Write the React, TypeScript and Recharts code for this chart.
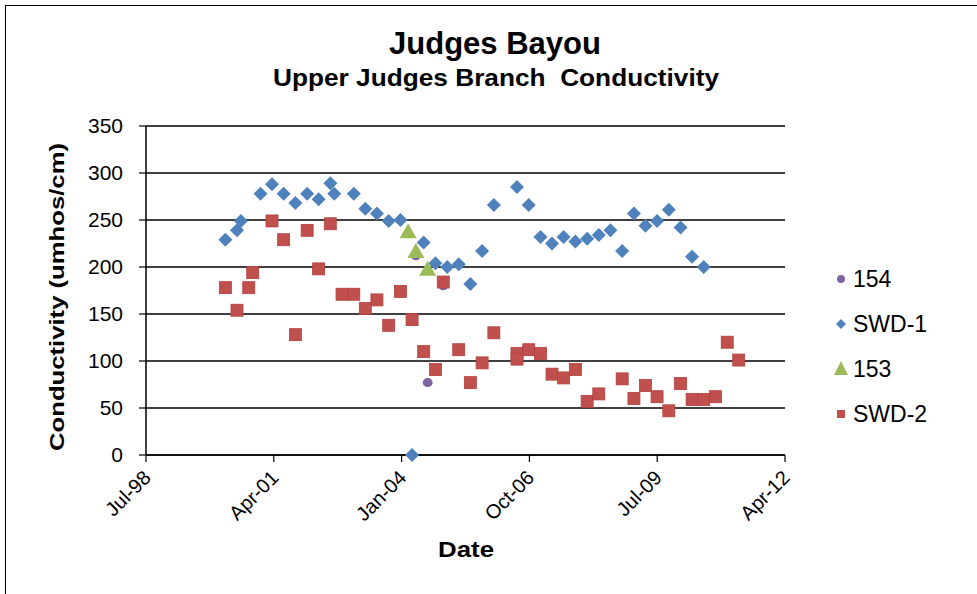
import { ScatterChart, Scatter, XAxis, YAxis, CartesianGrid } from 'recharts';

// x axis ticks sit 1000 days apart (Excel date serials 36000..41000)
const tickDates = ['1998-07-24', '2001-04-19', '2004-01-14', '2006-10-10', '2009-07-06', '2012-04-01'];
const tickLabels = ['Jul-98', 'Apr-01', 'Jan-04', 'Oct-06', 'Jul-09', 'Apr-12'];
const yTicks = [0, 50, 100, 150, 200, 250, 300, 350];

const site154Dates = ['2004-05', '2004-08', '2004-12'];
const site154Values = [212, 77, 180];

const swd1Dates = [
  '2000-04', '2000-07', '2000-08', '2001-01', '2001-04', '2001-07', '2001-10',
  '2002-01', '2002-04', '2002-07', '2002-08', '2003-01', '2003-04', '2003-07', '2003-10',
  '2004-01', '2004-04', '2004-07', '2004-10', '2005-01', '2005-04', '2005-07', '2005-10',
  '2006-01', '2006-07', '2006-10', '2007-01', '2007-04', '2007-07', '2007-10',
  '2008-01', '2008-04', '2008-07', '2008-10', '2009-01', '2009-04', '2009-07', '2009-10',
  '2010-01', '2010-04', '2010-07',
];
const swd1Values = [
  229, 239, 249, 278, 288, 278, 268,
  278, 272, 289, 278, 278, 262, 257, 249,
  250, 0, 226, 204, 200, 203, 182, 217,
  266, 285, 266, 232, 225, 232, 227,
  230, 234, 239, 217, 257, 244, 249, 261,
  242, 211, 200,
];

const site153Dates = ['2004-03', '2004-05', '2004-08'];
const site153Values = [237, 216, 197];

const swd2Dates = [
  '2000-04', '2000-07', '2000-10', '2000-11', '2001-04', '2001-07', '2001-10',
  '2002-01', '2002-04', '2002-07', '2002-10', '2003-01', '2003-04', '2003-07', '2003-10',
  '2004-01', '2004-04', '2004-07', '2004-10', '2004-12', '2005-04', '2005-07', '2005-10',
  '2006-01', '2006-07', '2006-07', '2006-10', '2007-01', '2007-04', '2007-07', '2007-10',
  '2008-01', '2008-04', '2008-10', '2009-01', '2009-04', '2009-07', '2009-10',
  '2010-01', '2010-04', '2010-07', '2010-10', '2011-01', '2011-04',
];
const swd2Values = [
  178, 154, 178, 194, 249, 229, 128,
  239, 198, 246, 171, 171, 156, 165, 138,
  174, 144, 110, 91, 184, 112, 77, 98,
  130, 108, 102, 112, 108, 86, 82, 91,
  57, 65, 81, 60, 74, 62, 47,
  76, 59, 59, 62, 120, 101,
];

const FONT = '"Liberation Sans", Arial, sans-serif';

const toTime = (s: string) => {
  const [y, m, d] = s.split('-').map(Number);
  return Date.UTC(y, m - 1, d || 5);
};

const build = (dates: string[], values: number[]) =>
  dates.map((d, i) => ({ t: toTime(d), v: values[i] }));

const tickTimes = tickDates.map(toTime);

const Circle = ({ cx, cy }: any) => <ellipse cx={cx} cy={cy} rx={5} ry={4.5} fill="#8064A2" />;
const Diamond = ({ cx, cy }: any) => (
  <path d={`M${cx},${cy - 7}L${cx + 7},${cy}L${cx},${cy + 7}L${cx - 7},${cy}Z`} fill="#4F81BD" />
);
const Triangle = ({ cx, cy }: any) => (
  <path d={`M${cx},${cy - 9}L${cx + 8.5},${cy + 6}L${cx - 8.5},${cy + 6}Z`} fill="#9BBB59" />
);
const Square = ({ cx, cy }: any) => (
  <rect x={cx - 6} y={cy - 6} width={12} height={12} fill="#C0504D" stroke="#B4403C" strokeWidth={0.8} />
);

const XTick = ({ x, y, payload }: any) => {
  const i = tickTimes.indexOf(payload.value);
  return (
    <text
      transform={`translate(${x + 6},${y + 17}) rotate(-45)`}
      textAnchor="end"
      fontSize={20}
      fontFamily={FONT}
      fill="#000"
    >
      {tickLabels[i]}
    </text>
  );
};

const legendItems = [
  { name: '154', Shape: ({ cx, cy }: any) => <circle cx={cx} cy={cy} r={4} fill="#8064A2" /> },
  { name: 'SWD-1', Shape: ({ cx, cy }: any) => <path d={`M${cx},${cy - 5}L${cx + 5},${cy}L${cx},${cy + 5}L${cx - 5},${cy}Z`} fill="#4F81BD" /> },
  { name: '153', Shape: ({ cx, cy }: any) => <path d={`M${cx},${cy - 8}L${cx + 7},${cy + 6}L${cx - 7},${cy + 6}Z`} fill="#9BBB59" /> },
  { name: 'SWD-2', Shape: ({ cx, cy }: any) => <rect x={cx - 4} y={cy - 4} width={8} height={8} fill="#C0504D" /> },
];

export default function App() {
  return (
    <div style={{ position: 'absolute', left: 0, top: 0, width: 977, height: 594, overflow: 'hidden', background: '#fff' }}>
      <ScatterChart width={977} height={594} margin={{ top: 126, right: 192, left: 86, bottom: 79 }}>
        <CartesianGrid vertical={false} stroke="#000" strokeWidth={1.5} />
        <XAxis
          type="number"
          dataKey="t"
          domain={[tickTimes[0], tickTimes[tickTimes.length - 1]]}
          ticks={tickTimes}
          height={60}
          tick={<XTick />}
          tickSize={7}
          tickMargin={0}
          axisLine={{ stroke: '#000', strokeWidth: 1.5 }}
          tickLine={{ stroke: '#000', strokeWidth: 1.2 }}
        />
        <YAxis
          type="number"
          dataKey="v"
          domain={[0, 350]}
          ticks={yTicks}
          width={60}
          tickSize={7}
          tickMargin={16}
          axisLine={{ stroke: '#000', strokeWidth: 1.5 }}
          tickLine={{ stroke: '#000', strokeWidth: 1.2 }}
          tick={{ fill: '#000', fontSize: 21, fontFamily: FONT }}
        />
        <Scatter name="154" data={build(site154Dates, site154Values)} shape={Circle} isAnimationActive={false} />
        <Scatter name="SWD-1" data={build(swd1Dates, swd1Values)} shape={Diamond} isAnimationActive={false} />
        <Scatter name="153" data={build(site153Dates, site153Values)} shape={Triangle} isAnimationActive={false} />
        <Scatter name="SWD-2" data={build(swd2Dates, swd2Values)} shape={Square} isAnimationActive={false} />
      </ScatterChart>
      <svg width={977} height={594} style={{ position: 'absolute', left: 0, top: 0, pointerEvents: 'none' }} fontFamily={FONT}>
        <rect x={5.5} y={5.5} width={1100} height={1100} fill="none" stroke="#000" />
        <text x={495} y={54} textAnchor="middle" fontSize={31} fontWeight="bold">Judges Bayou</text>
        <text x={496} y={86} textAnchor="middle" fontSize={24} fontWeight="bold" textLength={446} lengthAdjust="spacingAndGlyphs">
          Upper Judges Branch&#160; Conductivity
        </text>
        <text
          transform="translate(64,297) rotate(-90)"
          textAnchor="middle"
          fontSize={21}
          fontWeight="bold"
          textLength={308}
          lengthAdjust="spacingAndGlyphs"
        >
          Conductivity (umhos/cm)
        </text>
        <text x={466} y={557} textAnchor="middle" fontSize={22} fontWeight="bold" textLength={56} lengthAdjust="spacingAndGlyphs">
          Date
        </text>
        {legendItems.map((item, i) => {
          const cy = 279 + i * 45;
          return (
            <g key={item.name}>
              <item.Shape cx={841} cy={cy} />
              <text x={853} y={cy + 8} fontSize={23}>{item.name}</text>
            </g>
          );
        })}
      </svg>
    </div>
  );
}
